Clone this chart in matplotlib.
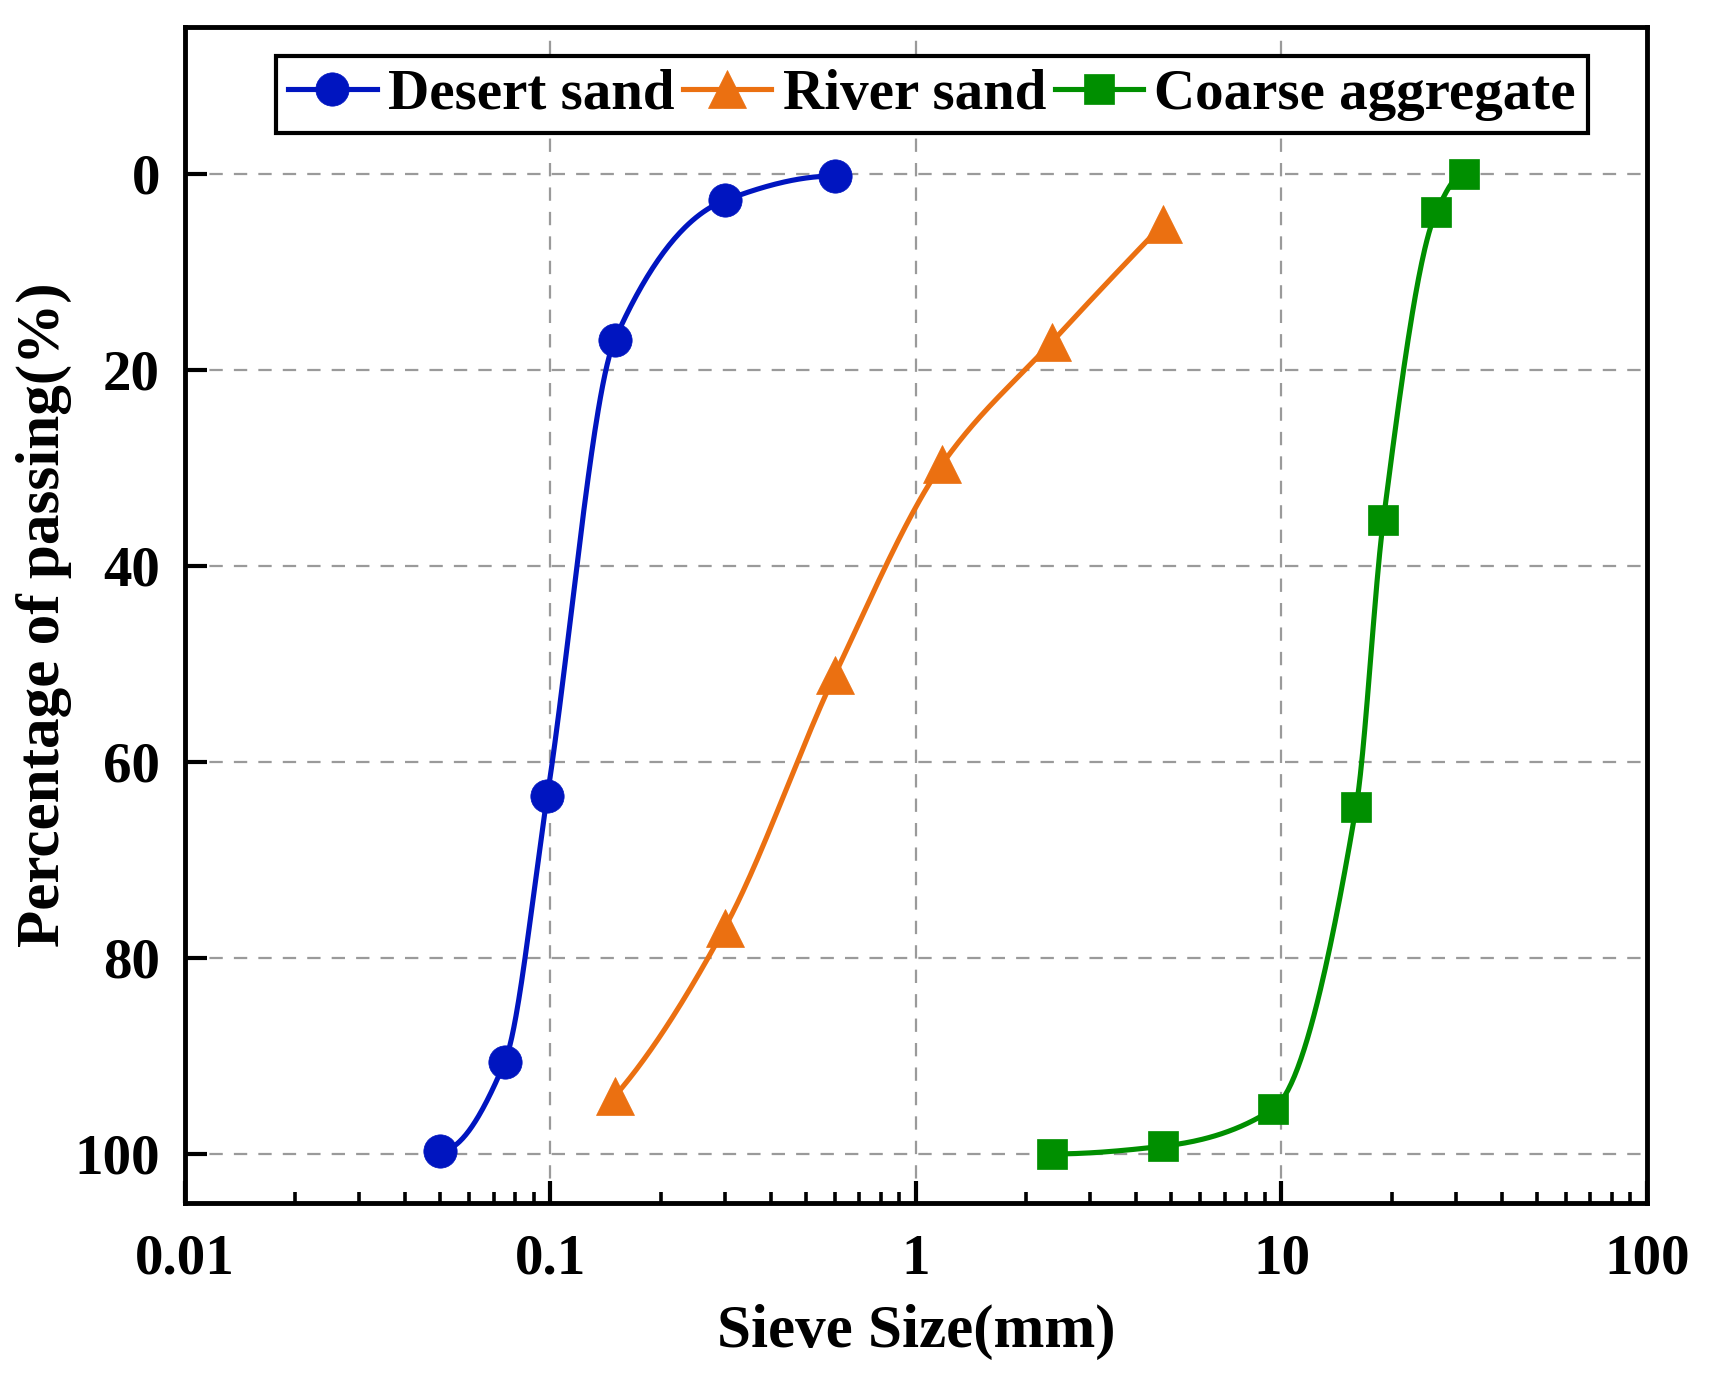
import numpy as np
import matplotlib
matplotlib.use('Agg')
import matplotlib.pyplot as plt
from matplotlib.ticker import LogLocator, FixedLocator, NullFormatter

plt.rcParams['font.family'] = ['Liberation Serif', 'DejaVu Serif']
plt.rcParams['font.weight'] = 'bold'

# sieve sizes (mm) and percentage values
desert_x = [0.05, 0.075, 0.098, 0.15, 0.3, 0.6]
desert_y = [99.7, 90.6, 63.5, 16.9, 2.7, 0.2]

river_x = [0.15, 0.3, 0.6, 1.18, 2.36, 4.75]
river_y = [94.1, 76.9, 51.1, 29.6, 17.1, 5.1]

coarse_x = [2.36, 4.75, 9.5, 16, 19, 26.5, 31.5]
coarse_y = [100.0, 99.2, 95.4, 64.6, 35.3, 3.9, 0.0]

x_ticks = [0.01, 0.1, 1, 10, 100]
x_labels = ['0.01', '0.1', '1', '10', '100']
y_ticks = [0, 20, 40, 60, 80, 100]


def pchip_line(xk, yk, n=300):
    # monotone cubic connection in log-x, like Origin's spline connect
    lx = np.log10(np.asarray(xk, float))
    y = np.asarray(yk, float)
    h = np.diff(lx)
    dl = np.diff(y) / h
    m = len(lx)
    d = np.zeros(m)
    for k in range(1, m - 1):
        if dl[k - 1] * dl[k] > 0:
            w1 = 2 * h[k] + h[k - 1]
            w2 = h[k] + 2 * h[k - 1]
            d[k] = (w1 + w2) / (w1 / dl[k - 1] + w2 / dl[k])

    def end(h0, h1, d0, d1):
        s = ((2 * h0 + h1) * d0 - h0 * d1) / (h0 + h1)
        if np.sign(s) != np.sign(d0):
            s = 0.0
        elif np.sign(d0) != np.sign(d1) and abs(s) > abs(3 * d0):
            s = 3 * d0
        return s

    d[0] = end(h[0], h[1], dl[0], dl[1])
    d[-1] = end(h[-1], h[-2], dl[-1], dl[-2])
    xs_all, ys_all = [], []
    for k in range(m - 1):
        t = np.linspace(0, 1, n // (m - 1) + 2)
        h00 = 2 * t**3 - 3 * t**2 + 1
        h10 = t**3 - 2 * t**2 + t
        h01 = -2 * t**3 + 3 * t**2
        h11 = t**3 - t**2
        yy = h00 * y[k] + h10 * h[k] * d[k] + h01 * y[k + 1] + h11 * h[k] * d[k + 1]
        xx = lx[k] + t * h[k]
        xs_all.append(xx)
        ys_all.append(yy)
    return 10 ** np.concatenate(xs_all), np.concatenate(ys_all)


fig = plt.figure(figsize=(17.11, 13.84), dpi=100)
ax = fig.add_axes([0.1081, 0.1308, 0.8545, 0.8497])

series = [
    (desert_x, desert_y, '#0015C0', 'o', 24, 'Desert sand'),
    (river_x, river_y, '#EB7011', '^', 27, 'River sand'),
    (coarse_x, coarse_y, '#008F00', 's', 22, 'Coarse aggregate'),
]
for xs, ys, col, mk, ms, lab in series:
    lx, ly = pchip_line(xs, ys)
    ax.plot(lx, ly, color=col, lw=3.7, zorder=3)
    ax.plot(xs, ys, linestyle='none', marker=mk, ms=ms, color=col,
            markeredgewidth=0.5, zorder=4)
    ax.plot([], [], color=col, lw=3.7, marker=mk, ms=ms,
            markeredgewidth=0.5, label=lab)

ax.set_xscale('log')
ax.set_xlim(0.01, 100)
ax.set_ylim(105, -15)
ax.xaxis.set_major_locator(FixedLocator(x_ticks))
ax.set_xticklabels(x_labels)
ax.xaxis.set_minor_locator(LogLocator(base=10, subs=np.arange(2, 10)))
ax.xaxis.set_minor_formatter(NullFormatter())
ax.set_yticks(y_ticks)

ax.grid(True, which='major', color='#9a9a9a', lw=1.6, linestyle=(0, (6, 5)))
ax.set_axisbelow(True)

for sp in ax.spines.values():
    sp.set_linewidth(3.5)

ax.tick_params(axis='x', which='major', direction='in', length=16, width=3,
               labelsize=41, pad=22)
ax.tick_params(axis='x', which='minor', direction='in', length=8, width=2.6)
ax.tick_params(axis='y', which='major', direction='in', length=16, width=3,
               labelsize=41, pad=18)
for lbl in ax.get_xticklabels() + ax.get_yticklabels():
    lbl.set_fontweight('bold')

ax.set_xlabel('Sieve Size(mm)', fontsize=44, fontweight='bold')
ax.set_ylabel('Percentage of passing(%)', fontsize=44, fontweight='bold')
ax.xaxis.set_label_coords(0.5, -0.086)
ax.yaxis.set_label_coords(-0.077, 0.5)

leg = ax.legend(loc='upper center', bbox_to_anchor=(0.511, 0.975), ncol=3,
                frameon=True, fancybox=False, borderaxespad=0,
                borderpad=0.22, handlelength=1.55, handletextpad=0.2,
                columnspacing=0.15, prop={'size': 41, 'weight': 'bold'})
leg.get_frame().set_edgecolor('black')
leg.get_frame().set_linewidth(3)
leg.get_frame().set_alpha(1)

fig.savefig('out.png', dpi=100)
